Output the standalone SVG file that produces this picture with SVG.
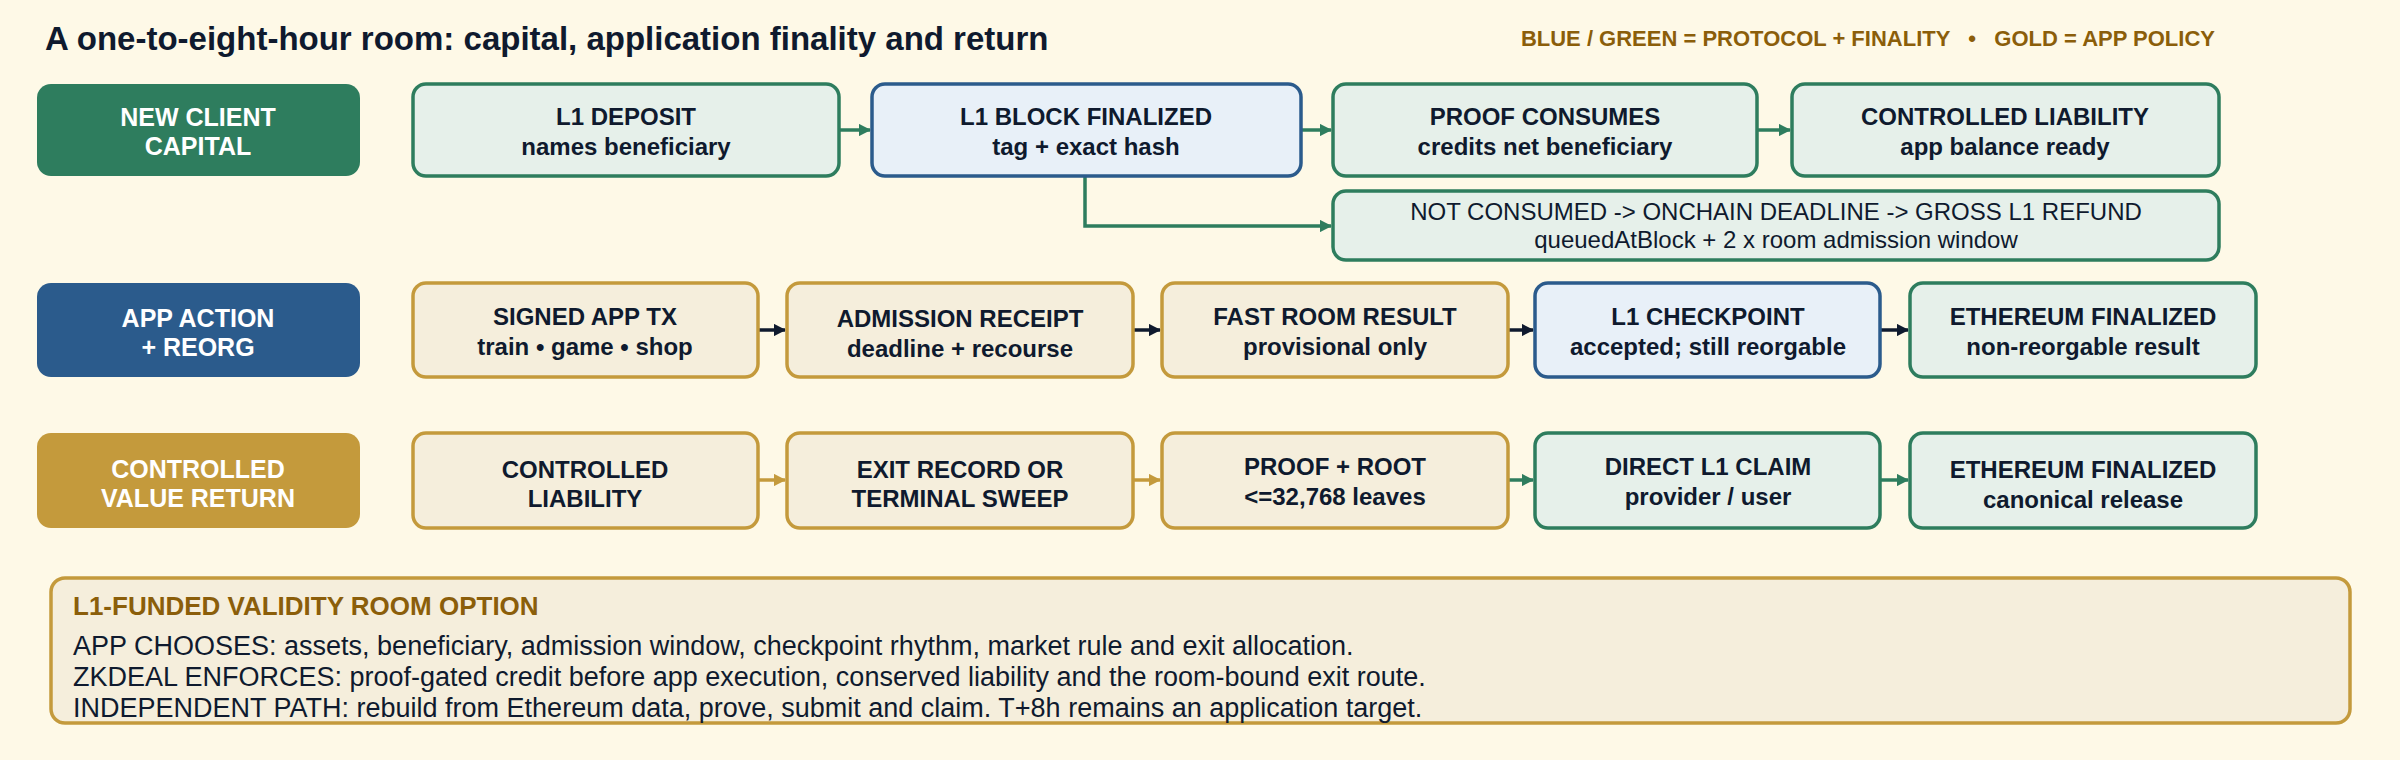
<svg xmlns="http://www.w3.org/2000/svg" width="2400" height="760" viewBox="0 0 2400 760">
<defs>
<style>
text{font-family:"Liberation Sans",Arial,sans-serif;}
.t{font-size:24px;font-weight:bold;fill:#0F1A2E;text-anchor:middle}
.s{font-size:24px;font-weight:bold;fill:#0F1A2E;text-anchor:middle}
.r{font-size:24px;fill:#0F1A2E;text-anchor:middle}
.lab{font-size:25px;font-weight:bold;fill:#FFFFFF;text-anchor:middle}
.g{fill:#E6F0EA;stroke:#2E7D5E;stroke-width:3.5}
.b{fill:#E8F0F8;stroke:#2B5B8C;stroke-width:3.5}
.o{fill:#F5EEDC;stroke:#C49A3C;stroke-width:3.5}
.cg{stroke:#2E7D5E;stroke-width:3.5;fill:none}
.cn{stroke:#0F1A2E;stroke-width:3.5;fill:none}
.co{stroke:#C49A3C;stroke-width:3.5;fill:none}
.p{font-size:27px;fill:#0F1A2E}
</style>
<marker id="ag" viewBox="0 0 10 10" refX="9" refY="5" markerWidth="3.5" markerHeight="3.5" orient="auto" markerUnits="strokeWidth"><path d="M0,0L10,5L0,10Z" fill="#2E7D5E"/></marker>
<marker id="an" viewBox="0 0 10 10" refX="9" refY="5" markerWidth="3.5" markerHeight="3.5" orient="auto" markerUnits="strokeWidth"><path d="M0,0L10,5L0,10Z" fill="#0F1A2E"/></marker>
<marker id="ao" viewBox="0 0 10 10" refX="9" refY="5" markerWidth="3.5" markerHeight="3.5" orient="auto" markerUnits="strokeWidth"><path d="M0,0L10,5L0,10Z" fill="#C49A3C"/></marker>
</defs>
<rect width="2400" height="760" fill="#FEF9E7"/>
<text x="45" y="50" font-size="33" font-weight="bold" fill="#0F1A2E">A one-to-eight-hour room: capital, application finality and return</text>
<text x="2215" y="46" font-size="22" font-weight="bold" fill="#8B5E0A" text-anchor="end" xml:space="preserve">BLUE / GREEN = PROTOCOL + FINALITY   •   GOLD = APP POLICY</text>

<g id="lane1"><rect x="37" y="84" width="323" height="92" rx="14" fill="#2E7D5E"/><text class="lab" x="198" y="126">NEW CLIENT</text><text class="lab" x="198" y="155">CAPITAL</text></g>
<g id="lane2"><rect x="37" y="283" width="323" height="94" rx="14" fill="#2B5B8C"/><text class="lab" x="198" y="327">APP ACTION</text><text class="lab" x="198" y="356">+ REORG</text></g>
<g id="lane3"><rect x="37" y="433" width="323" height="95" rx="14" fill="#C49A3C"/><text class="lab" x="198" y="478">CONTROLLED</text><text class="lab" x="198" y="507">VALUE RETURN</text></g>

<g id="connectors">
<line class="cg" x1="839" y1="130" x2="870" y2="130" marker-end="url(#ag)"/>
<line class="cg" x1="1301" y1="130" x2="1331" y2="130" marker-end="url(#ag)"/>
<line class="cg" x1="1757" y1="130" x2="1790" y2="130" marker-end="url(#ag)"/>
<path class="cg" d="M1085 176V226H1331" marker-end="url(#ag)"/>
<line class="cn" x1="758" y1="330" x2="785" y2="330" marker-end="url(#an)"/>
<line class="cn" x1="1133" y1="330" x2="1160" y2="330" marker-end="url(#an)"/>
<line class="cn" x1="1508" y1="330" x2="1533" y2="330" marker-end="url(#an)"/>
<line class="cn" x1="1880" y1="330" x2="1908" y2="330" marker-end="url(#an)"/>
<line class="co" x1="758" y1="480" x2="785" y2="480" marker-end="url(#ao)"/>
<line class="co" x1="1133" y1="480" x2="1160" y2="480" marker-end="url(#ao)"/>
<line class="cg" x1="1508" y1="480" x2="1533" y2="480" marker-end="url(#ag)"/>
<line class="cg" x1="1880" y1="480" x2="1908" y2="480" marker-end="url(#ag)"/>
</g>

<g id="n1"><rect class="g" x="413" y="84" width="426" height="92" rx="13"/><text class="t" x="626" y="125">L1 DEPOSIT</text><text class="s" x="626" y="155">names beneficiary</text></g>
<g id="n2"><rect class="b" x="872" y="84" width="429" height="92" rx="13"/><text class="t" x="1086" y="125">L1 BLOCK FINALIZED</text><text class="s" x="1086" y="155">tag + exact hash</text></g>
<g id="n3"><rect class="g" x="1333" y="84" width="424" height="92" rx="13"/><text class="t" x="1545" y="125">PROOF CONSUMES</text><text class="s" x="1545" y="155">credits net beneficiary</text></g>
<g id="n4"><rect class="g" x="1792" y="84" width="427" height="92" rx="13"/><text class="t" x="2005" y="125">CONTROLLED LIABILITY</text><text class="s" x="2005" y="155">app balance ready</text></g>
<g id="n5"><rect class="g" x="1333" y="191" width="886" height="69" rx="13"/><text class="r" x="1776" y="220">NOT CONSUMED -&gt; ONCHAIN DEADLINE -&gt; GROSS L1 REFUND</text><text class="r" x="1776" y="248">queuedAtBlock + 2 x room admission window</text></g>

<g id="n6"><rect class="o" x="413" y="283" width="345" height="94" rx="13"/><text class="t" x="585" y="325">SIGNED APP TX</text><text class="s" x="585" y="355">train • game • shop</text></g>
<g id="n7"><rect class="o" x="787" y="283" width="346" height="94" rx="13"/><text class="t" x="960" y="327">ADMISSION RECEIPT</text><text class="s" x="960" y="357">deadline + recourse</text></g>
<g id="n8"><rect class="o" x="1162" y="283" width="346" height="94" rx="13"/><text class="t" x="1335" y="325">FAST ROOM RESULT</text><text class="s" x="1335" y="355">provisional only</text></g>
<g id="n9"><rect class="b" x="1535" y="283" width="345" height="94" rx="13"/><text class="t" x="1708" y="325">L1 CHECKPOINT</text><text class="s" x="1708" y="355">accepted; still reorgable</text></g>
<g id="n10"><rect class="g" x="1910" y="283" width="346" height="94" rx="13"/><text class="t" x="2083" y="325">ETHEREUM FINALIZED</text><text class="s" x="2083" y="355">non-reorgable result</text></g>

<g id="n11"><rect class="o" x="413" y="433" width="345" height="95" rx="13"/><text class="t" x="585" y="478">CONTROLLED</text><text class="t" x="585" y="507">LIABILITY</text></g>
<g id="n12"><rect class="o" x="787" y="433" width="346" height="95" rx="13"/><text class="t" x="960" y="478">EXIT RECORD OR</text><text class="t" x="960" y="507">TERMINAL SWEEP</text></g>
<g id="n13"><rect class="o" x="1162" y="433" width="346" height="95" rx="13"/><text class="t" x="1335" y="475">PROOF + ROOT</text><text class="s" x="1335" y="505">&lt;=32,768 leaves</text></g>
<g id="n14"><rect class="g" x="1535" y="433" width="345" height="95" rx="13"/><text class="t" x="1708" y="475">DIRECT L1 CLAIM</text><text class="s" x="1708" y="505">provider / user</text></g>
<g id="n15"><rect class="g" x="1910" y="433" width="346" height="95" rx="13"/><text class="t" x="2083" y="478">ETHEREUM FINALIZED</text><text class="s" x="2083" y="508">canonical release</text></g>

<g id="panel"><rect x="51" y="578" width="2299" height="145" rx="14" fill="#F5EEDC" stroke="#C49A3C" stroke-width="3.5"/>
<text x="73" y="615" font-size="26" font-weight="bold" fill="#8B5E0A">L1-FUNDED VALIDITY ROOM OPTION</text>
<text class="p" x="73" y="655">APP CHOOSES: assets, beneficiary, admission window, checkpoint rhythm, market rule and exit allocation.</text>
<text class="p" x="73" y="686">ZKDEAL ENFORCES: proof-gated credit before app execution, conserved liability and the room-bound exit route.</text>
<text class="p" x="73" y="717">INDEPENDENT PATH: rebuild from Ethereum data, prove, submit and claim. T+8h remains an application target.</text>
</g>
</svg>
